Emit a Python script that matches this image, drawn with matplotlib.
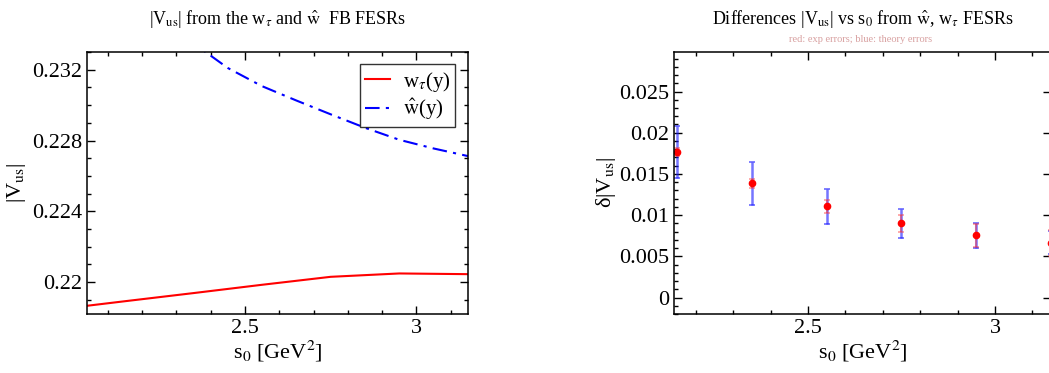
import matplotlib
matplotlib.use("Agg")
import matplotlib.pyplot as plt
import matplotlib.ticker as mticker

plt.rcParams['font.family'] = ['Liberation Serif', 'DejaVu Serif']
plt.rcParams['mathtext.fontset'] = 'stix'

# left panel: |Vus| vs s0 for the two weights
s0_tau = [2.0, 2.15, 2.35, 2.55, 2.75, 2.95, 3.15]
vus_wtau = [0.21857, 0.21892, 0.21938, 0.21985, 0.22030, 0.22049, 0.22045]
s0_hat = [2.15, 2.25, 2.35, 2.45, 2.55, 2.65, 2.75, 2.85, 2.95, 3.05, 3.15]
vus_what = [0.2368, 0.2350, 0.2335, 0.2321, 0.23107, 0.23026, 0.22948,
            0.22872, 0.22804, 0.22755, 0.22712]

# right panel: differences with exp / theory errors
s0_pts = [2.15, 2.35, 2.55, 2.75, 2.95, 3.15]
dvus = [0.01767, 0.01384, 0.01107, 0.00900, 0.00753, 0.00664]
err_exp = [0.0005, 0.0006, 0.0008, 0.0010, 0.0014, 0.0016]
err_th = [0.0032, 0.0026, 0.0021, 0.0018, 0.0015, 0.0014]

fig = plt.figure(figsize=(10.49, 3.73), dpi=100)
ax1 = fig.add_axes([0.0829, 0.1582, 0.3632, 0.7024])
ax2 = fig.add_axes([0.6425, 0.1582, 0.3595, 0.7024])

fmt = mticker.FuncFormatter(lambda v, p: '%g' % round(v, 6))

def style(ax):
    for sp in ax.spines.values():
        sp.set_linewidth(1.1)
    ax.tick_params(which='both', direction='in', top=True, right=True, labelsize=16, width=1)
    ax.tick_params(which='major', length=6)
    ax.tick_params(which='minor', length=3)
    ax.xaxis.set_major_locator(mticker.MultipleLocator(0.5))
    ax.xaxis.set_minor_locator(mticker.MultipleLocator(0.1))
    ax.xaxis.set_major_formatter(fmt)
    ax.yaxis.set_major_formatter(fmt)
    ax.set_xlabel(r's$_0$ [GeV$^2$]', fontsize=16, labelpad=1)

# left
ax1.plot(s0_tau, vus_wtau, color='red', lw=1.5, label=r'w$_\tau$(y)')
ax1.plot(s0_hat, vus_what, color='blue', lw=1.5, dashes=[7, 3, 1.5, 3],
         label=r'$\hat{\mathrm{w}}$(y)')
ax1.set_xlim(2.04, 3.15)
ax1.set_ylim(0.2182, 0.233)
style(ax1)
ax1.yaxis.set_major_locator(mticker.MultipleLocator(0.004))
ax1.yaxis.set_minor_locator(mticker.MultipleLocator(0.001))
ax1.set_ylabel(r'|V$_{\rm us}$|', fontsize=16, labelpad=3)
ax1.set_title(r'|V$_{\rm us}$| from the w$_\tau$ and $\hat{\mathrm{w}}$  FB FESRs', fontsize=13, pad=20)
leg = ax1.legend(loc='upper right', fontsize=15, frameon=True, fancybox=False,
                 handlelength=1.2, handletextpad=0.6, borderpad=0.25, labelspacing=0.15,
                 borderaxespad=0.6)
leg.get_frame().set_edgecolor('black')
leg.get_frame().set_linewidth(1.0)

# right
_, caps_th, bars_th = ax2.errorbar(s0_pts, dvus, yerr=err_th, fmt='none',
                                   ecolor=(0.1, 0.1, 1.0, 0.6), elinewidth=1.8,
                                   capsize=2.5, capthick=1.3)
for c in caps_th:
    c.set_color('blue')
_, caps_ex, bars_ex = ax2.errorbar(s0_pts, dvus, yerr=err_exp, fmt='none',
                                   ecolor=(1.0, 0.2, 0.2, 0.45), elinewidth=1.5,
                                   capsize=2.5, capthick=1.3)
for c in caps_ex:
    c.set_color((0.9, 0.2, 0.3, 0.7))
ax2.plot(s0_pts, dvus, 'o', color='red', ms=4.5, mec='red')
ax2.set_xlim(2.142, 3.15)
ax2.set_ylim(-0.002, 0.0298)
style(ax2)
ax2.yaxis.set_major_locator(mticker.MultipleLocator(0.005))
ax2.yaxis.set_minor_locator(mticker.MultipleLocator(0.001))
ax2.tick_params(axis='y', which='minor', right=False)
ax2.set_ylabel('δ|V$_{\\rm us}$|', fontsize=16, labelpad=1)
ax2.set_title(r'Differences |V$_{\rm us}$| vs s$_0$ from $\hat{\mathrm{w}}$, w$_\tau$ FESRs',
              fontsize=13, pad=20)
fig.text(0.82, 0.893, 'red: exp errors; blue: theory errors', fontsize=7.5,
         color='#d8a0a0', ha='center', va='center')

fig.savefig('out.png', dpi=100)
